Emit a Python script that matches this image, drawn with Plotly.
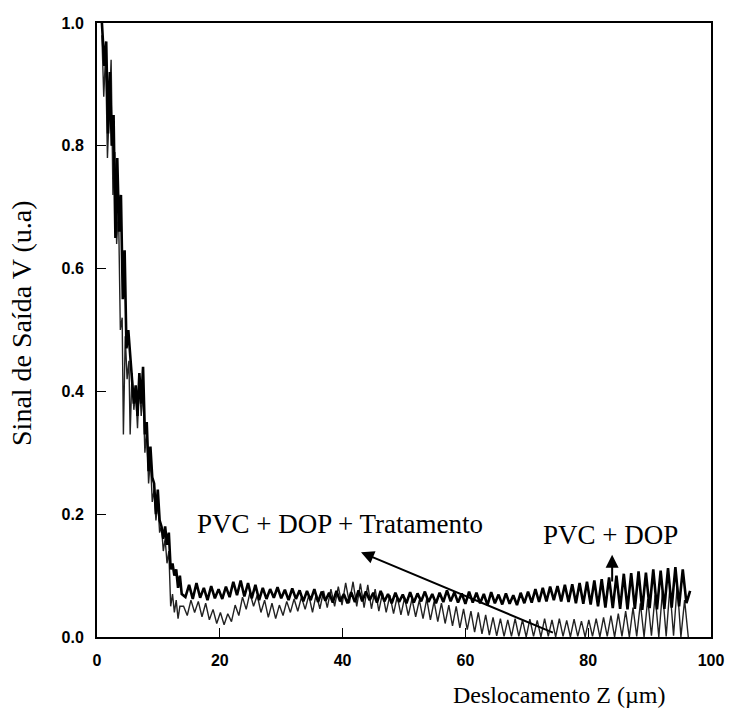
import plotly.graph_objects as go

# ---------------- data ----------------
# PVC + DOP (upper, thicker curve): steep initial part
pvc_dop_x_early = [0.8, 1.2, 1.5, 1.8, 2.1, 2.4, 2.7, 3.0, 3.3, 3.6, 3.9, 4.2, 4.5, 4.8,
                   5.1, 5.4, 5.7, 6.0, 6.3, 6.6, 6.9, 7.2, 7.5, 7.8, 8.1, 8.4, 8.7, 9.0,
                   9.3, 9.6, 9.9, 10.2, 10.5, 10.8, 11.1, 11.4, 11.7, 12.0, 12.3, 12.6,
                   12.9, 13.2, 13.5, 13.8]
pvc_dop_y_early = [1.00, 0.93, 0.97, 0.82, 0.92, 0.80, 0.85, 0.65, 0.78, 0.66, 0.72, 0.55,
                   0.63, 0.47, 0.50, 0.45, 0.42, 0.38, 0.41, 0.36, 0.43, 0.38, 0.44, 0.33,
                   0.35, 0.27, 0.31, 0.26, 0.25, 0.20, 0.24, 0.19, 0.18, 0.16, 0.18, 0.15,
                   0.17, 0.11, 0.12, 0.10, 0.11, 0.08, 0.10, 0.07]
# PVC + DOP: oscillating part, samples every 0.6 um starting at 14.4 um
pvc_dop_osc_start = 14.4
pvc_dop_osc_step = 0.6
pvc_dop_y_osc = [
    0.065, 0.085, 0.062, 0.088, 0.064, 0.080, 0.060, 0.083, 0.063, 0.078,
    0.062, 0.082, 0.065, 0.090, 0.068, 0.092, 0.066, 0.088, 0.063, 0.085,
    0.060, 0.080, 0.062, 0.078, 0.064, 0.081, 0.063, 0.077, 0.060, 0.079,
    0.062, 0.076, 0.058, 0.075, 0.060, 0.078, 0.057, 0.074, 0.059, 0.072,
    0.056, 0.075, 0.058, 0.070, 0.055, 0.073, 0.057, 0.076, 0.058, 0.074,
    0.060, 0.072, 0.056, 0.075, 0.058, 0.070, 0.055, 0.072, 0.057, 0.069,
    0.055, 0.073, 0.056, 0.071, 0.058, 0.074, 0.057, 0.070, 0.055, 0.072,
    0.057, 0.076, 0.058, 0.073, 0.056, 0.071, 0.054, 0.074, 0.056, 0.072,
    0.055, 0.070, 0.052, 0.073, 0.055, 0.069, 0.053, 0.071, 0.054, 0.068,
    0.052, 0.072, 0.055, 0.074, 0.056, 0.078, 0.057, 0.080, 0.058, 0.082,
    0.060, 0.083, 0.058, 0.085, 0.057, 0.086, 0.055, 0.088, 0.054, 0.090,
    0.053, 0.092, 0.050, 0.094, 0.048, 0.097, 0.047, 0.100, 0.046, 0.103,
    0.045, 0.104, 0.046, 0.107, 0.044, 0.105, 0.047, 0.110, 0.045, 0.108,
    0.046, 0.112, 0.048, 0.114, 0.050, 0.110, 0.055, 0.075]

# PVC + DOP + Tratamento (lower, thinner curve): steep initial part
trat_x_early = [0.8, 1.1, 1.4, 1.7, 2.0, 2.3, 2.6, 2.9, 3.2, 3.5, 3.8, 4.1, 4.3, 4.6,
                4.9, 5.2, 5.4, 5.7, 6.0, 6.3, 6.6, 6.9, 7.2, 7.5, 7.8, 8.1, 8.4, 8.7,
                9.0, 9.3, 9.6, 9.9, 10.2, 10.5, 10.8, 11.1, 11.4, 11.7, 12.0, 12.3,
                12.6, 12.9, 13.2, 13.5]
trat_y_early = [0.98, 0.88, 0.95, 0.78, 0.86, 0.94, 0.72, 0.79, 0.64, 0.70, 0.50, 0.52,
                0.33, 0.49, 0.42, 0.45, 0.33, 0.43, 0.37, 0.40, 0.34, 0.42, 0.36, 0.40,
                0.30, 0.34, 0.25, 0.29, 0.22, 0.24, 0.19, 0.22, 0.17, 0.18, 0.14, 0.16,
                0.12, 0.14, 0.05, 0.07, 0.04, 0.06, 0.03, 0.05]
# PVC + DOP + Tratamento: oscillating part, samples every 0.6 um starting at 14.1 um
trat_osc_start = 14.1
trat_osc_step = 0.6
trat_y_osc = [
    0.050, 0.035, 0.060, 0.040, 0.058, 0.033, 0.055, 0.028, 0.045, 0.022,
    0.040, 0.020, 0.038, 0.025, 0.052, 0.035, 0.065, 0.045, 0.072, 0.050,
    0.068, 0.040, 0.060, 0.032, 0.055, 0.030, 0.052, 0.035, 0.058, 0.040,
    0.062, 0.042, 0.065, 0.045, 0.068, 0.040, 0.070, 0.046, 0.075, 0.048,
    0.078, 0.050, 0.082, 0.052, 0.088, 0.055, 0.090, 0.050, 0.087, 0.048,
    0.085, 0.046, 0.078, 0.042, 0.072, 0.040, 0.068, 0.038, 0.066, 0.036,
    0.064, 0.035, 0.062, 0.033, 0.060, 0.030, 0.062, 0.028, 0.058, 0.025,
    0.055, 0.022, 0.052, 0.018, 0.050, 0.015, 0.046, 0.012, 0.042, 0.008,
    0.040, 0.005, 0.036, 0.003, 0.032, 0.002, 0.030, 0.001, 0.028, 0.001,
    0.030, 0.001, 0.028, 0.000, 0.029, 0.001, 0.027, 0.000, 0.030, 0.001,
    0.028, 0.000, 0.030, 0.001, 0.027, 0.000, 0.029, 0.001, 0.026, 0.000,
    0.028, 0.001, 0.030, 0.000, 0.032, 0.001, 0.035, 0.000, 0.038, 0.001,
    0.042, 0.000, 0.048, 0.001, 0.055, 0.000, 0.062, 0.002, 0.068, 0.000,
    0.075, 0.001, 0.080, 0.002, 0.085, 0.000, 0.060, 0.000]

x_ticks = [0, 20, 40, 60, 80, 100]
y_ticks = [0.0, 0.2, 0.4, 0.6, 0.8, 1.0]
x_title = "Deslocamento Z (µm)"
y_title = "Sinal de Saída V (u.a)"
label_trat = "PVC + DOP + Tratamento"
label_dop = "PVC + DOP"

# ---------------- build series ----------------
pvc_dop_x = pvc_dop_x_early + [round(pvc_dop_osc_start + i * pvc_dop_osc_step, 2)
                               for i in range(len(pvc_dop_y_osc))]
pvc_dop_y = pvc_dop_y_early + pvc_dop_y_osc
trat_x = trat_x_early + [round(trat_osc_start + i * trat_osc_step, 2)
                         for i in range(len(trat_y_osc))]
trat_y = trat_y_early + trat_y_osc

SERIF = "Liberation Serif, Times New Roman, serif"
SANS = "Liberation Sans, Arial, sans-serif"

fig = go.Figure()
fig.add_trace(go.Scatter(x=trat_x, y=trat_y, mode="lines",
                         line=dict(color="#222222", width=1.4),
                         name=label_trat, showlegend=False))
fig.add_trace(go.Scatter(x=pvc_dop_x, y=pvc_dop_y, mode="lines",
                         line=dict(color="black", width=2.6),
                         name=label_dop, showlegend=False))

# labels
fig.add_annotation(x=16.0, y=0.184, xref="x", yref="y", text=label_trat,
                   showarrow=False, xanchor="left", yanchor="middle",
                   font=dict(family=SERIF, size=27, color="black"))
fig.add_annotation(x=83.6, y=0.166, xref="x", yref="y", text=label_dop,
                   showarrow=False, xanchor="center", yanchor="middle",
                   font=dict(family=SERIF, size=27, color="black"))
# arrows
fig.add_annotation(x=43.0, y=0.138, ax=74.5, ay=0.006, xref="x", yref="y",
                   axref="x", ayref="y", text="", showarrow=True,
                   arrowhead=2, arrowsize=1.3, arrowwidth=2, arrowcolor="black")
fig.add_annotation(x=83.9, y=0.134, ax=83.9, ay=0.088, xref="x", yref="y",
                   axref="x", ayref="y", text="", showarrow=True,
                   arrowhead=2, arrowsize=1.3, arrowwidth=2, arrowcolor="black")

# axis titles
fig.add_annotation(x=0.752, y=-0.094, xref="paper", yref="paper", text=x_title,
                   showarrow=False, xanchor="center", yanchor="middle",
                   font=dict(family=SERIF, size=24, color="black"))
fig.add_annotation(x=-0.122, y=0.51, xref="paper", yref="paper", text=y_title,
                   showarrow=False, xanchor="center", yanchor="middle", textangle=-90,
                   font=dict(family=SERIF, size=28, color="black"))

axis_common = dict(showline=True, linewidth=2, linecolor="black", mirror=True,
                   ticks="inside", ticklen=9, tickwidth=1, tickcolor="black",
                   showgrid=False, zeroline=False,
                   tickfont=dict(family=SANS, size=16, color="black", weight="bold"))

fig.update_xaxes(range=[0, 100], tickvals=x_ticks, ticklabelstandoff=8, **axis_common)
fig.update_yaxes(range=[0, 1.0], tickvals=y_ticks, tickformat=".1f",
                 ticklabelstandoff=8, **axis_common)

fig.update_layout(width=736, height=711, margin=dict(l=97, r=21, t=23, b=74),
                  paper_bgcolor="white", plot_bgcolor="white", showlegend=False)

fig.write_html("out.html")
